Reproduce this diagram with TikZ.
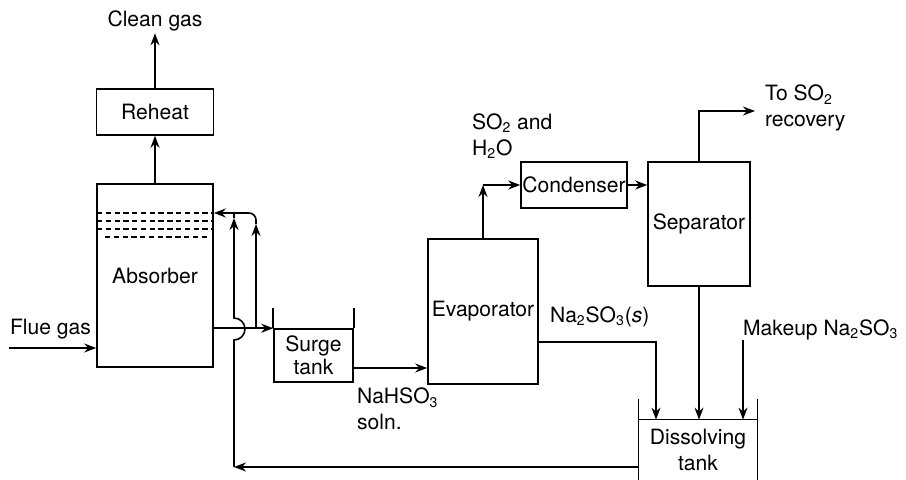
\documentclass[tikz,border=0pt]{standalone}
\usepackage{fontspec}
\setmainfont{TeX Gyre Heros}
\usetikzlibrary{arrows.meta}

\begin{document}
\begin{tikzpicture}[
    x=0.02cm, y=-0.02cm,
    every node/.style={font=\fontsize{12}{14.5}\selectfont, align=center},
    unit/.style={draw, line width=0.9pt, inner sep=0pt},
    lbl/.style={inner sep=1pt, align=left},
    pipe/.style={line width=0.9pt},
    flow/.style={line width=0.9pt, -{Stealth[length=2.4mm, width=1.8mm]}},
    tray/.style={line width=0.9pt, dash pattern=on 3pt off 2pt}
]
\useasboundingbox (0,0) rectangle (906,480);

% Absorber and reheat
\node[unit, minimum width=2.32cm, minimum height=3.66cm] (absorber) at (155,275.5) {Absorber};
\node[unit, minimum width=2.34cm, minimum height=0.92cm] (reheat) at (155,112) {Reheat};
\node[lbl] (clean) at (155,21) {Clean gas};
\draw[flow] (absorber.north) -- (reheat.south);
\draw[flow] (reheat.north) -- (clean.south);

% Trays
\foreach \y in {213,221,229}
    \draw[tray] (97,\y) -- (213,\y);
\draw[tray] (105,237) -- (207,237);

% Flue gas
\node[lbl, anchor=west] (flue) at (8,329) {Flue gas};
\coordinate (fluein) at (9,348);
\draw[flow] (fluein) -- (fluein -| absorber.west);

% Surge tank
\node[unit, minimum width=1.58cm, minimum height=1.06cm, font=\fontsize{12}{13}\selectfont] (surge) at (313.5,355.5) {Surge\\tank};
\draw[pipe] (surge.north west) -- ++(0,-20) (surge.north east) -- ++(0,-20);
\draw[flow] (absorber.east |- surge.north west) -- (surge.north west);

% Evaporator
\node[unit, minimum width=2.2cm, minimum height=2.9cm] (evap) at (483,311.5) {Evaporator};
\coordinate (liq) at (353,368);
\draw[flow] (liq) -- (liq -| evap.west);
\node[lbl, anchor=west] (bisulf) at (355,409) {NaHSO\textsubscript{3}\\soln.};

% Condenser
\node[unit, minimum width=2.12cm, minimum height=0.92cm] (cond) at (574,185) {Condenser};
\draw[flow] (evap.north) -- (evap.north |- cond.west);
\draw[flow] (evap.north |- cond.west) -- (cond.west);
\node[lbl, anchor=west] (vapour) at (470,136) {SO\textsubscript{2} and\\H\textsubscript{2}O};

% Separator
\node[unit, minimum width=2.04cm, minimum height=2.48cm] (sep) at (699,224) {Separator};
\draw[flow] (cond.east) -- (cond.east -| sep.west);
\coordinate (rec) at (755,111);
\draw[flow] (sep.north) |- (rec);
\node[lbl, anchor=west] (recovery) at (763,108) {To SO\textsubscript{2}\\recovery};

% Dissolving tank
\node[minimum width=2.36cm, minimum height=1.2cm, inner sep=0pt] (dissolve) at (698,450) {Dissolving\\tank};
\draw[pipe] (dissolve.south west) -- ++(0,-81) (dissolve.south east) -- ++(0,-81)
    (dissolve.north west) -- (dissolve.north east);
\draw[flow] (sep.south) -- (sep.south |- dissolve.north);
\coordinate (solid) at (656,342);
\draw[flow] (evap.east |- solid) -| (solid |- dissolve.north);
\node[lbl, anchor=west] (sulfite) at (548,317) {Na\textsubscript{2}SO\textsubscript{3}(\textit{s})};
\coordinate (mkin) at (743,340);
\draw[flow] (mkin) -- (mkin |- dissolve.north);
\node[lbl, anchor=west] (makeup) at (741,330) {Makeup Na\textsubscript{2}SO\textsubscript{3}};

% Recycle to absorber
\coordinate (ret) at (234,467);
\coordinate (top) at (234,213);
\draw[flow] (ret -| dissolve.west) -- (ret);
\draw[flow] (ret) -- (234,340) arc[start angle=-90, end angle=90, radius=0.22cm] -- (234,218);
\draw[pipe] (234,218) -- (top);
\coordinate (split) at (256,329);
\draw[flow] (split) -- (256,224);
\draw[flow, rounded corners=4pt] (256,224) -- (256,213) -- (absorber.east |- top);
\end{tikzpicture}
\end{document}
